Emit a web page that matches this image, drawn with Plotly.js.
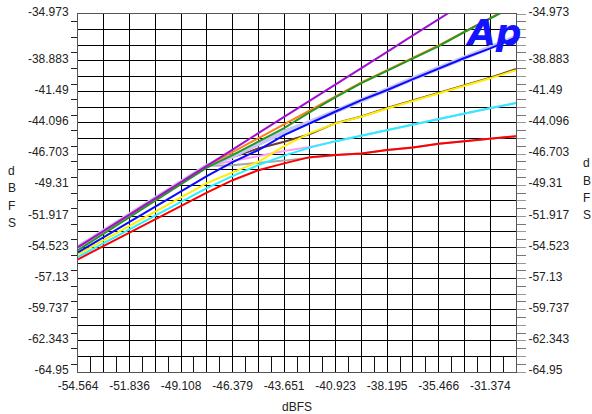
<!DOCTYPE html>
<html>
<head>
<meta charset="utf-8">
<script src="https://cdn.plot.ly/plotly-3.0.1.min.js"></script>
<style>
  html, body { margin: 0; padding: 0; background: #ffffff; }
  #chart { width: 592px; height: 414px; }
</style>
</head>
<body>
<div id="chart"></div>
<script>
// ---- data ----
const inputLevel = [-54.564, -53.200, -51.836, -50.472, -49.108, -47.744, -46.379, -45.015, -43.651,
                    -42.287, -40.923, -39.559, -38.195, -36.831, -35.466, -34.102, -32.738, -31.374];

const purple   = [-54.50,-53.15,-51.78,-50.40,-49.05,-47.69,-46.33,-44.95,-43.60,-42.22,-40.87,-39.50,-38.14,-36.77,-35.41,-34.05,-32.68,-31.32];
const orange   = [-54.50,-53.15,-51.78,-50.40,-49.05,-47.69,-46.54,-45.37,-44.19,-43.06,-41.89,-40.71,-39.67,-38.62,-37.61,-36.44,-35.27,-34.18];
const green    = [-54.75,-53.37,-51.99,-50.60,-49.22,-47.84,-46.79,-45.66,-44.53,-43.19,-41.93,-40.76,-39.71,-38.66,-37.66,-36.48,-35.31,-34.22];
const lavender = [-54.50,-53.15,-51.78,-50.40,-49.05,-47.69,-46.87,-45.83,-44.84,-44.02,-43.10,-42.14,-41.30,-40.38,-39.50,-38.62,-37.82,-36.90];
const blue     = [-54.94,-53.66,-52.40,-51.11,-49.85,-48.55,-47.38,-46.37,-45.11,-44.11,-43.14,-42.18,-41.34,-40.42,-39.54,-38.66,-37.85,-36.94];
const brown    = [-54.50,-53.15,-51.78,-50.40,-49.05,-47.69,-46.96,-46.23,-45.67,-45.03,-44.11,-43.56,-42.85,-42.22,-41.55,-40.97,-40.30,-39.58];
const yellow   = [-55.11,-53.91,-52.74,-51.54,-50.33,-49.14,-48.24,-47.35,-46.04,-44.95,-44.13,-43.58,-42.88,-42.26,-41.59,-41.01,-40.36,-39.67];
const pink     = [-54.50,-53.15,-51.78,-50.40,-49.05,-47.69,-47.29,-46.87,-46.45,-46.10,-45.62,-45.15,-44.69,-44.23,-43.77,-43.31,-42.85,-42.43];
const cyan     = [-55.31,-54.16,-53.01,-51.86,-50.70,-49.56,-48.55,-47.63,-46.83,-46.16,-45.62,-45.15,-44.69,-44.23,-43.77,-43.31,-42.85,-42.43];
const gray     = [-54.50,-53.15,-51.78,-50.40,-49.05,-47.69,-47.63,-47.46,-47.25,-47.00,-46.79,-46.65,-46.37,-46.16,-45.83,-45.62,-45.41,-45.20];
const red      = [-55.51,-54.39,-53.28,-52.16,-51.05,-49.93,-48.89,-48.05,-47.48,-46.96,-46.79,-46.65,-46.37,-46.16,-45.83,-45.62,-45.41,-45.20];

// ---- axes / ticks ----
const xGrid = [-54.564, -53.200, -51.836, -50.472, -49.108, -47.744, -46.379, -45.015, -43.651,
               -42.287, -40.923, -39.559, -38.195, -36.831, -35.466, -34.102, -32.738, -31.374];
const xTickText = ['-54.564','','-51.836','','-49.108','','-46.379','','-43.651','',
                   '-40.923','','-38.195','','-35.466','','-31.374',''];
const yGrid = [-64.950,-63.647,-62.343,-61.040,-59.737,-58.433,-57.130,-55.827,-54.523,-53.220,-51.917,-50.613,
               -49.310,-48.007,-46.703,-45.400,-44.096,-42.793,-41.490,-40.187,-38.883,-37.580,-36.277,-34.973];
const yTickText = ['-64.95','','-62.343','','-59.737','','-57.13','','-54.523','','-51.917','',
                   '-49.31','','-46.703','','-44.096','','-41.49','','-38.883','','','-34.973'];
const xTitle = 'dBFS';
const yTitleLetters = ['d','B','F','S'];

function mids(a) { const m = []; for (let i = 0; i < a.length - 1; i++) m.push((a[i] + a[i+1]) / 2); return m; }
const xMid = mids(xGrid), yMid = mids(yGrid);

const series = [
  {y: gray,     color: '#a6a6a6', w: 2},
  {y: pink,     color: '#ff99ff', w: 2},
  {y: brown,    color: '#6e3b2e', w: 2},
  {y: lavender, color: '#c6c6f6', w: 4.5},
  {y: orange,   color: '#ff7f1a', w: 2},
  {y: red,      color: '#ff0000', w: 2},
  {y: cyan,     color: '#22f2ff', w: 2},
  {y: yellow,   color: '#ffee00', w: 2},
  {y: blue,     color: '#0a0aff', w: 2},
  {y: green,    color: '#229922', w: 2},
  {y: purple,   color: '#9f10cf', w: 2}
];

const traces = series.map(s => ({
  type: 'scatter', mode: 'lines', x: inputLevel, y: s.y,
  line: {color: s.color, width: s.w}, hoverinfo: 'skip', showlegend: false, cliponaxis: true
}));
// right-hand axis carrier (invisible)
traces.push({type: 'scatter', mode: 'lines', x: inputLevel, y: purple, yaxis: 'y2',
  line: {color: 'rgba(0,0,0,0)', width: 0}, hoverinfo: 'skip', showlegend: false});

const tickFont = {family: 'Liberation Sans, Arial, sans-serif', size: 12, color: '#222'};

const yLetterAnn = [];
yTitleLetters.forEach((ch, i) => {
  yLetterAnn.push({text: ch, xref: 'paper', yref: 'paper', x: -0.151, y: 0.562 - i * 0.0485,
    showarrow: false, xanchor: 'center', yanchor: 'middle', font: {family: 'Liberation Sans, Arial', size: 12, color: '#222'}});
  yLetterAnn.push({text: ch, xref: 'paper', yref: 'paper', x: 1.161, y: 0.583 - i * 0.0485,
    showarrow: false, xanchor: 'center', yanchor: 'middle', font: {family: 'Liberation Sans, Arial', size: 12, color: '#222'}});
});

const layout = {
  width: 592, height: 414,
  margin: {l: 78, r: 76, t: 14, b: 42, pad: 0},
  paper_bgcolor: '#ffffff', plot_bgcolor: '#ffffff',
  showlegend: false,
  xaxis: {
    range: [-54.564, -31.374], tickmode: 'array', tickvals: xGrid, ticktext: xTickText,
    showgrid: true, gridcolor: '#000000', gridwidth: 1, zeroline: false,
    showline: true, linecolor: '#555', linewidth: 1, mirror: true,
    ticks: 'outside', ticklen: 3, tickcolor: 'rgba(0,0,0,0)',
    tickfont: tickFont,
    minor: {tickmode: 'array', tickvals: xMid, ticks: 'inside', ticklen: 16, tickwidth: 1, tickcolor: '#111', showgrid: false}
  },
  yaxis: {
    range: [-64.95, -34.973], tickmode: 'array', tickvals: yGrid, ticktext: yTickText,
    showgrid: true, gridcolor: '#000000', gridwidth: 1, zeroline: false,
    showline: true, linecolor: '#555', linewidth: 1, mirror: true,
    ticks: 'outside', ticklen: 6, tickcolor: 'rgba(0,0,0,0)',
    ticklabelshift: -2,
    tickfont: tickFont,
    minor: {tickmode: 'array', tickvals: yMid, ticks: 'outside', ticklen: 6, tickwidth: 1, tickcolor: '#222', showgrid: false}
  },
  yaxis2: {
    overlaying: 'y', side: 'right', anchor: 'x',
    range: [-64.95, -34.973], tickmode: 'array', tickvals: yGrid, ticktext: yTickText,
    showgrid: false, zeroline: false, showline: false,
    ticks: 'outside', ticklen: 9, tickwidth: 1, tickcolor: '#999',
    ticklabelshift: -2,
    tickfont: tickFont,
    minor: {tickmode: 'array', tickvals: yMid, ticks: 'outside', ticklen: 9, tickwidth: 1, tickcolor: '#777', showgrid: false}
  },
  annotations: [
    {text: xTitle, xref: 'paper', yref: 'paper', x: 0.5, y: -0.098, showarrow: false,
     xanchor: 'center', yanchor: 'middle', font: {family: 'Liberation Sans, Arial', size: 12, color: '#222'}},
    {text: '<b><i>Ap</i></b>', xref: 'paper', yref: 'paper', x: 0.948, y: 0.948, showarrow: false,
     xanchor: 'center', yanchor: 'middle', font: {family: 'Liberation Sans Narrow, DejaVu Sans', size: 36, color: '#1414ff'}}
  ].concat(yLetterAnn)
};

Plotly.newPlot('chart', traces, layout, {staticPlot: true, displayModeBar: false});
</script>
</body>
</html>
